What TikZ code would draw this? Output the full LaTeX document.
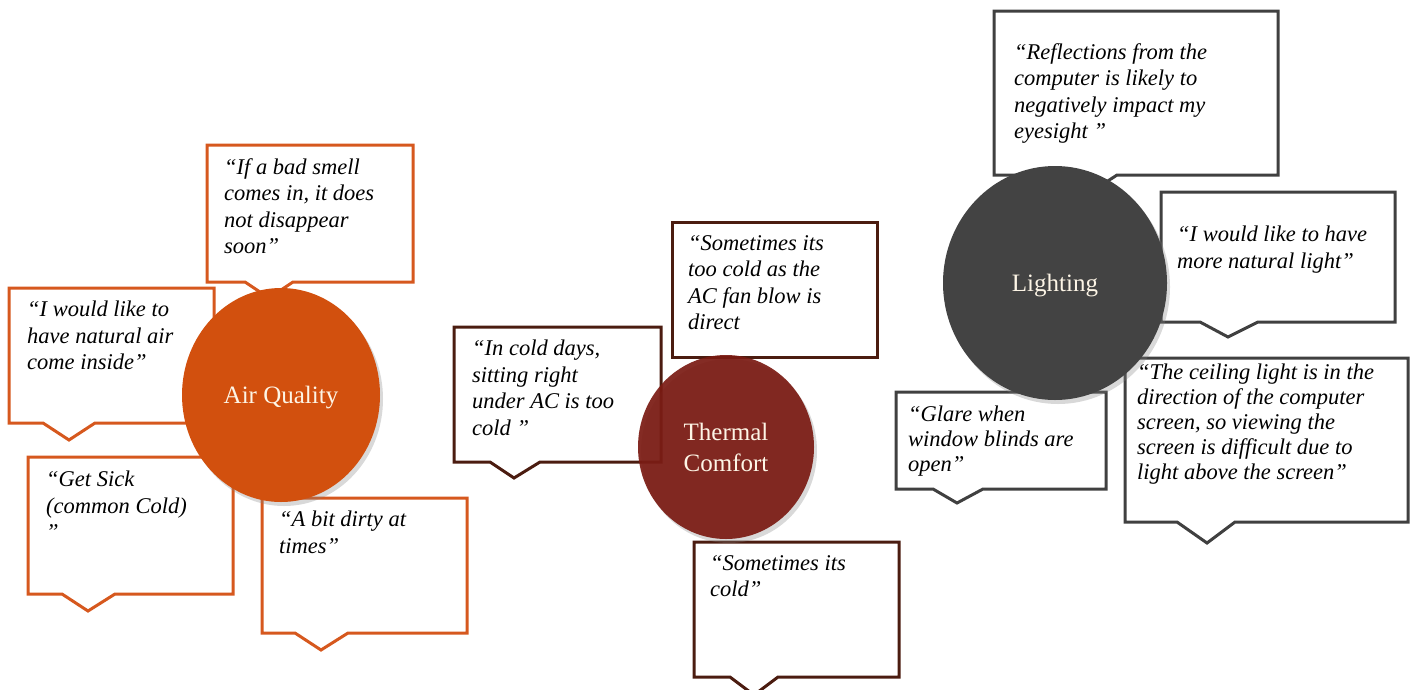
\documentclass[tikz,border=0pt]{standalone}
\usepackage{fontspec}
\setmainfont{Liberation Serif}
\usetikzlibrary{shapes.geometric,shadows}

\definecolor{naranja}{RGB}{210,80,14}
\definecolor{bordenaranja}{RGB}{214,88,30}
\definecolor{granate}{RGB}{122,26,18}
\definecolor{bordegranate}{RGB}{75,28,16}
\definecolor{grisoscuro}{RGB}{67,67,67}
\definecolor{bordegris}{RGB}{64,64,64}
\definecolor{crema}{RGB}{253,245,230}

\begin{document}
\begin{tikzpicture}[x=1pt,y=-1pt,
		globo/.style={fill=white, line width=3pt, line join=miter},
		cita/.style={anchor=north west, inner sep=0pt, align=left,
			font=\fontsize{22.5}{26.5}\selectfont\itshape,
			execute at begin node={\rule{0pt}{17pt}}},
		tema/.style={ellipse, inner sep=0pt, text=crema, align=center,
			font=\fontsize{25}{31}\selectfont,
			drop shadow={shadow xshift=3pt, shadow yshift=-4pt, opacity=0.3}}]
		
		% Marco de la figura completa
		\useasboundingbox (0,0) rectangle (1416,689);
		
		% Globos de la calidad del aire
		\draw[globo, draw=bordenaranja] (207,145) -- (413,145) -- (413,282) -- (293,282) -- (269,298) -- (245,282) -- (207,282) -- cycle;
		\draw[globo, draw=bordenaranja] (9,288) -- (214,288) -- (214,423) -- (95,423) -- (69,440) -- (43,423) -- (9,423) -- cycle;
		\draw[globo, draw=bordenaranja] (28,457) -- (233,457) -- (233,594) -- (115,594) -- (88,611) -- (62,594) -- (28,594) -- cycle;
		\draw[globo, draw=bordenaranja] (262,498) -- (467,498) -- (467,633) -- (348,633) -- (321,650) -- (295,633) -- (262,633) -- cycle;
		\node[cita] (aire1) at (224,158) {“If a bad smell\\comes in, it does\\not disappear\\soon”};
		\node[cita] (aire2) at (27,301) {“I would like to\\have natural air\\come inside”};
		\node[cita] (aire3) at (46,471) {“Get Sick\\(common Cold)\\”};
		\node[cita] (aire4) at (279,511) {“A bit dirty at\\times”};
		
		% Globos del confort térmico
		\draw[globo, draw=bordegranate] (454,327) -- (661,327) -- (661,462) -- (540,462) -- (514,478) -- (490,462) -- (454,462) -- cycle;
		\draw[globo, draw=bordegranate] (672,222) rectangle (877,357);
		\draw[globo, draw=bordegranate] (694,542) -- (899,542) -- (899,677) -- (778,677) -- (754,695) -- (730,677) -- (694,677) -- cycle;
		\node[cita] (termico1) at (472,340) {“In cold days,\\sitting right\\under AC is too\\cold ”};
		\node[cita] (termico2) at (688,235) {“Sometimes its\\too cold as the\\AC fan blow is\\direct};
		\node[cita] (termico3) at (710,555) {“Sometimes its\\cold”};
		
		% Globos de la iluminación
		\draw[globo, draw=bordegris] (994,11) -- (1278,11) -- (1278,175) -- (1117,175) -- (1091,192) -- (1065,175) -- (994,175) -- cycle;
		\draw[globo, draw=bordegris] (1161,192) -- (1395,192) -- (1395,322) -- (1258,322) -- (1228,337) -- (1200,322) -- (1161,322) -- cycle;
		\draw[globo, draw=bordegris] (1125,358) -- (1408,358) -- (1408,522) -- (1235,522) -- (1207,543) -- (1177,522) -- (1125,522) -- cycle;
		\draw[globo, draw=bordegris] (896,392) -- (1106,392) -- (1106,489) -- (983,489) -- (957,503) -- (933,489) -- (896,489) -- cycle;
		\node[cita] (luz1) at (1014,43) {“Reflections from the\\computer is likely to\\negatively impact my\\eyesight ”};
		\node[cita] (luz2) at (1177,226) {“I would like to have\\more natural light”};
		\node[cita, font=\fontsize{22.5}{25}\selectfont\itshape] (luz3) at (1137,364) {“The ceiling light is in the\\direction of the computer\\screen, so viewing the\\screen is difficult due to\\light above the screen”};
		\node[cita, font=\fontsize{22.5}{25}\selectfont\itshape] (luz4) at (908,406) {“Glare when\\window blinds are\\open”};
		
		% Círculos de cada tema, encima de los globos
		\node[tema, fill=naranja, text depth=0pt, minimum width=198pt, minimum height=214pt] (aire) at (281,395) {Air Quality};
		\node[tema, fill=granate, fill opacity=0.92, text opacity=1, minimum width=176pt, minimum height=184pt] (termico) at (726,447) {Thermal\\Comfort};
		\node[tema, fill=grisoscuro, text depth=0pt, minimum width=224pt, minimum height=234pt] (luz) at (1055,283) {Lighting};
		
	\end{tikzpicture}
\end{document}
